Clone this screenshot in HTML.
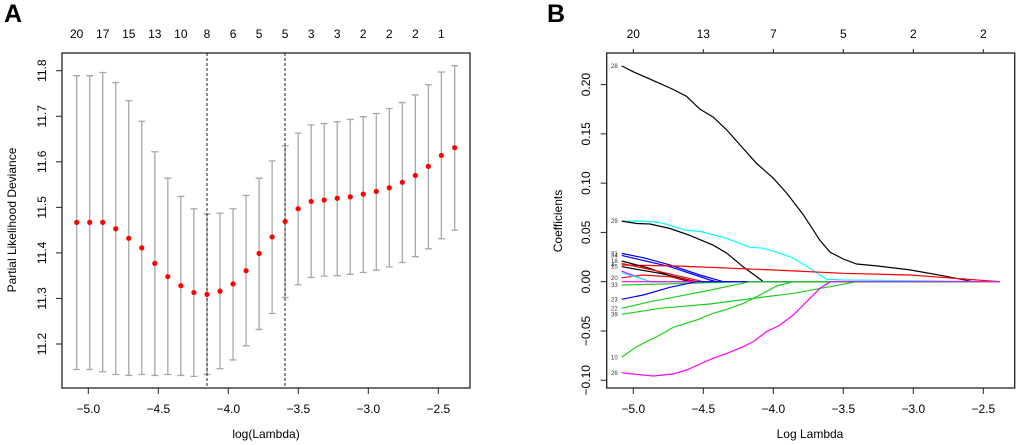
<!DOCTYPE html>
<html><head><meta charset="utf-8">
<style>
html,body{margin:0;padding:0;background:#fff;}
svg{display:block;font-family:"Liberation Sans",Arial,sans-serif;}
</style></head>
<body>
<svg id="fig" width="1020" height="445" viewBox="0 0 1020 445">
<text x="4" y="22" font-size="25" font-weight="bold">A</text>
<text x="547" y="22" font-size="25" font-weight="bold">B</text>
<g id="pa"></g>
<g id="pb"></g>
</svg>
<script>
// ---- Panel A data ----
const cvLogLambda = [-5.083,-4.990,-4.897,-4.804,-4.711,-4.618,-4.525,-4.432,-4.339,-4.246,-4.152,-4.059,-3.966,-3.873,-3.780,-3.687,-3.594,-3.501,-3.408,-3.315,-3.222,-3.129,-3.036,-2.943,-2.850,-2.757,-2.664,-2.571,-2.478,-2.383];
const cvMean = [11.467,11.467,11.467,11.453,11.432,11.411,11.377,11.348,11.328,11.313,11.309,11.316,11.332,11.361,11.399,11.435,11.469,11.497,11.513,11.516,11.520,11.523,11.529,11.535,11.543,11.555,11.570,11.590,11.614,11.631];
const cvUpper = [11.789,11.789,11.796,11.774,11.734,11.689,11.622,11.564,11.524,11.497,11.485,11.487,11.497,11.526,11.564,11.602,11.635,11.663,11.681,11.684,11.688,11.693,11.699,11.706,11.717,11.730,11.747,11.769,11.797,11.811];
const cvLower = [11.144,11.144,11.139,11.133,11.131,11.133,11.131,11.133,11.131,11.129,11.133,11.146,11.165,11.196,11.232,11.267,11.302,11.330,11.346,11.349,11.350,11.353,11.357,11.362,11.369,11.379,11.392,11.409,11.431,11.450];
const cvNonzero = [20,17,15,13,10,8,6,5,5,3,3,2,2,2,1];
const cvXTicks = [-5.0,-4.5,-4.0,-3.5,-3.0,-2.5];
const cvYTicks = [11.2,11.3,11.4,11.5,11.6,11.7,11.8];
const lambdaMin = -4.152;
const lambda1se = -3.595;

// ---- Panel B data ----
const pathXTicks = [-5.0,-4.5,-4.0,-3.5,-3.0,-2.5];
const pathYTicks = [-0.10,-0.05,0.00,0.05,0.10,0.15,0.20];
const pathTopLabels = [20,13,7,5,2,2];
const pathColors = ["black","cyan","black","blue","blue","red","black","black","red","red","magenta","cyan","magenta","#1fcf1f","blue","#1fcf1f","#1fcf1f","#1fcf1f","magenta"];
const pathX = [
 [-5.083,-5,-4.857,-4.714,-4.619,-4.524,-4.429,-4.333,-4.214,-4.119,-4.0,-3.905,-3.786,-3.667,-3.595,-3.5,-3.405,-3.262,-3.024,-2.786,-2.571,-2.381],
 [-5.083,-4.929,-4.810,-4.619,-4.524,-4.333,-4.167,-4.071,-3.976,-3.857,-3.738,-3.619,-3.5,-2.381],
 [-5.083,-4.976,-4.881,-4.738,-4.595,-4.429,-4.333,-4.214,-4.071,-2.381],
 [-5.083,-4.929,-4.738,-4.524,-4.357,-2.381],
 [-5.083,-4.738,-4.452,-4.405,-2.381],
 [-5.083,-4.690,-3.976,-3.5,-3.024,-2.381],
 [-5.083,-4.881,-4.690,-4.595,-2.381],
 [-5.083,-4.810,-4.548,-2.381],
 [-5.083,-4.810,-4.5,-2.381],
 [-5.083,-4.929,-4.738,-4.548,-2.381],
 [-5.083,-4.976,-4.881,-2.381],
 [-5.083,-4.952,-4.881,-2.381],
 [-5.083,-2.381],
 [-5.083,-4.452,-4.167,-2.381],
 [-5.083,-4.929,-4.738,-4.548,-2.381],
 [-5.083,-4.881,-4.690,-4.452,-4.167,-2.381],
 [-5.083,-4.810,-4.452,-4.143,-3.857,-3.595,-3.405,-2.381],
 [-5.083,-4.976,-4.810,-4.714,-4.548,-4.429,-4.333,-4.214,-4.095,-3.976,-3.857,-2.381],
 [-5.083,-5,-4.857,-4.714,-4.619,-4.524,-4.429,-4.333,-4.214,-4.143,-4.048,-3.952,-3.857,-3.762,-3.667,-3.595,-2.381]
];
const pathY = [
 [0.219,0.213,0.204,0.195,0.188,0.175,0.167,0.154,0.135,0.120,0.105,0.090,0.068,0.042,0.030,0.023,0.018,0.016,0.012,0.006,0,0],
 [0.0615,0.0615,0.060,0.052,0.051,0.044,0.035,0.034,0.030,0.024,0.0135,0.0024,0.0017,0],
 [0.0615,0.059,0.0585,0.054,0.047,0.037,0.029,0.015,0,0],
 [0.0287,0.0243,0.017,0.0068,0,0],
 [0.0267,0.0152,0.0017,0,0],
 [0.0169,0.0159,0.0118,0.0085,0.0068,0],
 [0.021,0.0135,0.0034,0,0],
 [0.0152,0.0085,0,0],
 [0.0186,0.0101,0,0],
 [0.004,0.0068,0.005,0,0],
 [0.0108,0.005,0,0],
 [0.009,0.0034,0,0],
 [0,0],
 [-0.0034,-0.001,0,0],
 [-0.0179,-0.0135,-0.0057,0,0],
 [-0.027,-0.0203,-0.0152,-0.0085,0,0],
 [-0.0331,-0.027,-0.0226,-0.0169,-0.0118,-0.0051,0,0],
 [-0.0767,-0.0659,-0.0541,-0.0463,-0.0389,-0.0321,-0.0281,-0.022,-0.0135,-0.0044,0,0],
 [-0.0924,-0.0936,-0.0957,-0.0936,-0.0896,-0.0835,-0.0777,-0.0727,-0.0659,-0.0608,-0.0507,-0.0439,-0.0338,-0.0203,-0.0068,0,0]
];
const pathLabels = ["28","29","","31","34","4","18","15","","20","","","","33","23","22","39","10","26"];

const NS="http://www.w3.org/2000/svg";
function mk(parent,tag,attrs,text){const e=document.createElementNS(NS,tag);for(const k in attrs)e.setAttribute(k,attrs[k]);if(text!==undefined)e.textContent=text;parent.appendChild(e);return e;}

// Panel A
const pa=document.getElementById('pa');
const ax=v=>88.3+(v+5)*140;
const ay=v=>70.7+(11.8-v)*455.5;
let e;
e=mk(pa,'rect',{x:62,y:53,width:408,height:335,fill:'none',stroke:'#222','stroke-width':1.3});


cvLogLambda.forEach((l,i)=>{
  const x=ax(l);
  e=mk(pa,'path',{d:`M${x},${ay(cvUpper[i])}V${ay(cvLower[i])}M${x-3.5},${ay(cvUpper[i])}h7M${x-3.5},${ay(cvLower[i])}h7`,stroke:'#a8a8a8','stroke-width':1.3,fill:'none'});
  
  
});
[lambdaMin,lambda1se].forEach(l=>{
  e=mk(pa,'line',{x1:ax(l),x2:ax(l),y1:53,y2:388,stroke:'#222','stroke-width':1,'stroke-dasharray':'3,2'});
  
  
});
cvLogLambda.forEach((l,i)=>{
  e=mk(pa,'circle',{cx:ax(l),cy:ay(cvMean[i]),r:2.6,fill:'red'});
  
  
});
cvNonzero.forEach((n,i)=>{
  e=mk(pa,'text',{x:ax(cvLogLambda[i*2]),y:38,'font-size':12,'text-anchor':'middle'},n);
  
  
});
cvXTicks.forEach(t=>{
  mk(pa,'line',{x1:ax(t),x2:ax(t),y1:388,y2:394,stroke:'#222'});
  e=mk(pa,'text',{x:ax(t),y:413,'font-size':12,'text-anchor':'middle'},'\u2212'+Math.abs(t).toFixed(1));
  
  
});
cvYTicks.forEach(t=>{
  mk(pa,'line',{x1:56,x2:62,y1:ay(t),y2:ay(t),stroke:'#222'});
  e=mk(pa,'text',{x:46,y:ay(t),'font-size':12,'text-anchor':'middle',transform:`rotate(-90 46 ${ay(t)})`},t.toFixed(1));
  
  
});
e=mk(pa,'text',{x:266,y:438,'font-size':12,'text-anchor':'middle'},'log(Lambda)');


e=mk(pa,'text',{x:16,y:220,'font-size':12,'text-anchor':'middle',transform:'rotate(-90 16 220)'},'Partial Likelihood Deviance');



// Panel B
const pb=document.getElementById('pb');
const bx=v=>633.3+(v+5)*140;
const by=v=>281.7-v*985.6;
e=mk(pb,'rect',{x:606.7,y:53,width:408,height:335,fill:'none',stroke:'#222','stroke-width':1.3});


pathX.forEach((xs,i)=>{
  const d=xs.map((l,j)=>(j?'L':'M')+bx(l).toFixed(1)+','+by(pathY[i][j]).toFixed(1)).join('');
  e=mk(pb,'path',{d:d,fill:'none',stroke:pathColors[i],'stroke-width':1.2});
  
  
  if(pathLabels[i]){
    e=mk(pb,'text',{x:611,y:by(pathY[i][0])+2,'font-size':6,fill:'#333'},pathLabels[i]);
    
    
  }
});
pathXTicks.forEach((t,i)=>{
  mk(pb,'line',{x1:bx(t),x2:bx(t),y1:388,y2:394,stroke:'#222'});
  e=mk(pb,'text',{x:bx(t),y:413,'font-size':12,'text-anchor':'middle'},'\u2212'+Math.abs(t).toFixed(1));
  
  
  mk(pb,'line',{x1:bx(t),x2:bx(t),y1:53,y2:49,stroke:'#222'});
  e=mk(pb,'text',{x:bx(t),y:38,'font-size':12,'text-anchor':'middle'},pathTopLabels[i]);
  
  
});
pathYTicks.forEach(t=>{
  mk(pb,'line',{x1:600.7,x2:606.7,y1:by(t),y2:by(t),stroke:'#222'});
  const s=(t<0?'\u2212':'')+Math.abs(t).toFixed(2);
  e=mk(pb,'text',{x:590,y:by(t),'font-size':12,'text-anchor':'middle',transform:`rotate(-90 590 ${by(t)})`},s);
  
  
});
e=mk(pb,'text',{x:810,y:438,'font-size':12,'text-anchor':'middle'},'Log Lambda');


e=mk(pb,'text',{x:562,y:221,'font-size':12,'text-anchor':'middle',transform:'rotate(-90 562 221)'},'Coefficients');


</script>
</body></html>
